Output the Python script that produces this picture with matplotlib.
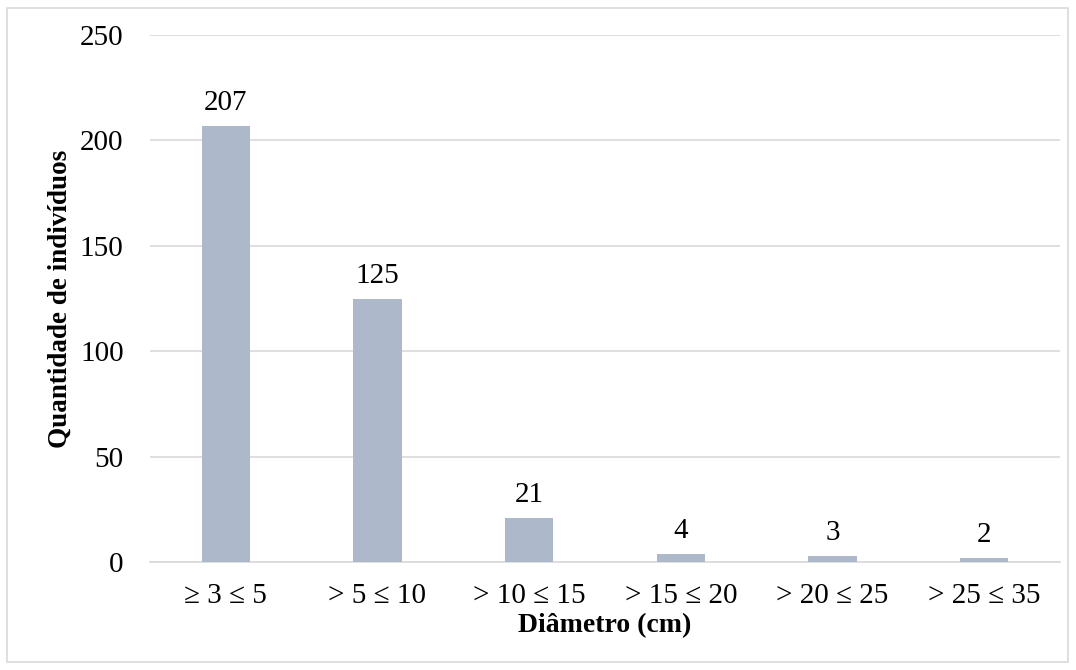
import matplotlib.pyplot as plt
from matplotlib.patches import Rectangle

# Classes de diâmetro e número de indivíduos em cada uma
classes = ['≥ 3 ≤ 5', '> 5 ≤ 10', '> 10 ≤ 15', '> 15 ≤ 20', '> 20 ≤ 25', '> 25 ≤ 35']
individuos = [207, 125, 21, 4, 3, 2]
yticks = [0, 50, 100, 150, 200, 250]

plt.rcParams['font.family'] = ['Liberation Serif', 'DejaVu Serif']

fig = plt.figure(figsize=(10.76, 6.70), dpi=100)
ax = fig.add_axes([150 / 1076, 1 - 562 / 670, 910 / 1076, 527 / 670])

x = range(len(classes))
bars = ax.bar(x, individuos, width=0.32, color='#adb9ca', zorder=3)
ax.bar_label(bars, padding=7, fontsize=21)

ax.set_ylim(0, 250)
ax.set_xlim(-0.5, len(classes) - 0.5)
ax.set_yticks(yticks)
ax.set_xticks(list(x))
ax.set_xticklabels(classes)
ax.tick_params(axis='both', length=0, labelsize=21, colors='black')
ax.tick_params(axis='y', pad=19)
ax.tick_params(axis='x', pad=15)

ax.grid(axis='y', color='#d9d9d9', linewidth=1.2, zorder=0)
for side in ['top', 'right', 'left']:
    ax.spines[side].set_visible(False)
ax.spines['bottom'].set_color('#d9d9d9')
ax.spines['bottom'].set_linewidth(1.2)

ax.set_ylabel('Quantidade de indivíduos', fontsize=19.5, fontweight='bold', labelpad=5)
ax.set_xlabel('Diâmetro (cm)', fontsize=20, fontweight='bold', labelpad=3)

# Moldura em volta do gráfico
fig.patches.append(Rectangle((7 / 1076, 8 / 670), 1061 / 1076, 654 / 670,
                             transform=fig.transFigure, fill=False,
                             edgecolor='#d9d9d9', linewidth=1.2))

fig.savefig('out.png', dpi=100)
